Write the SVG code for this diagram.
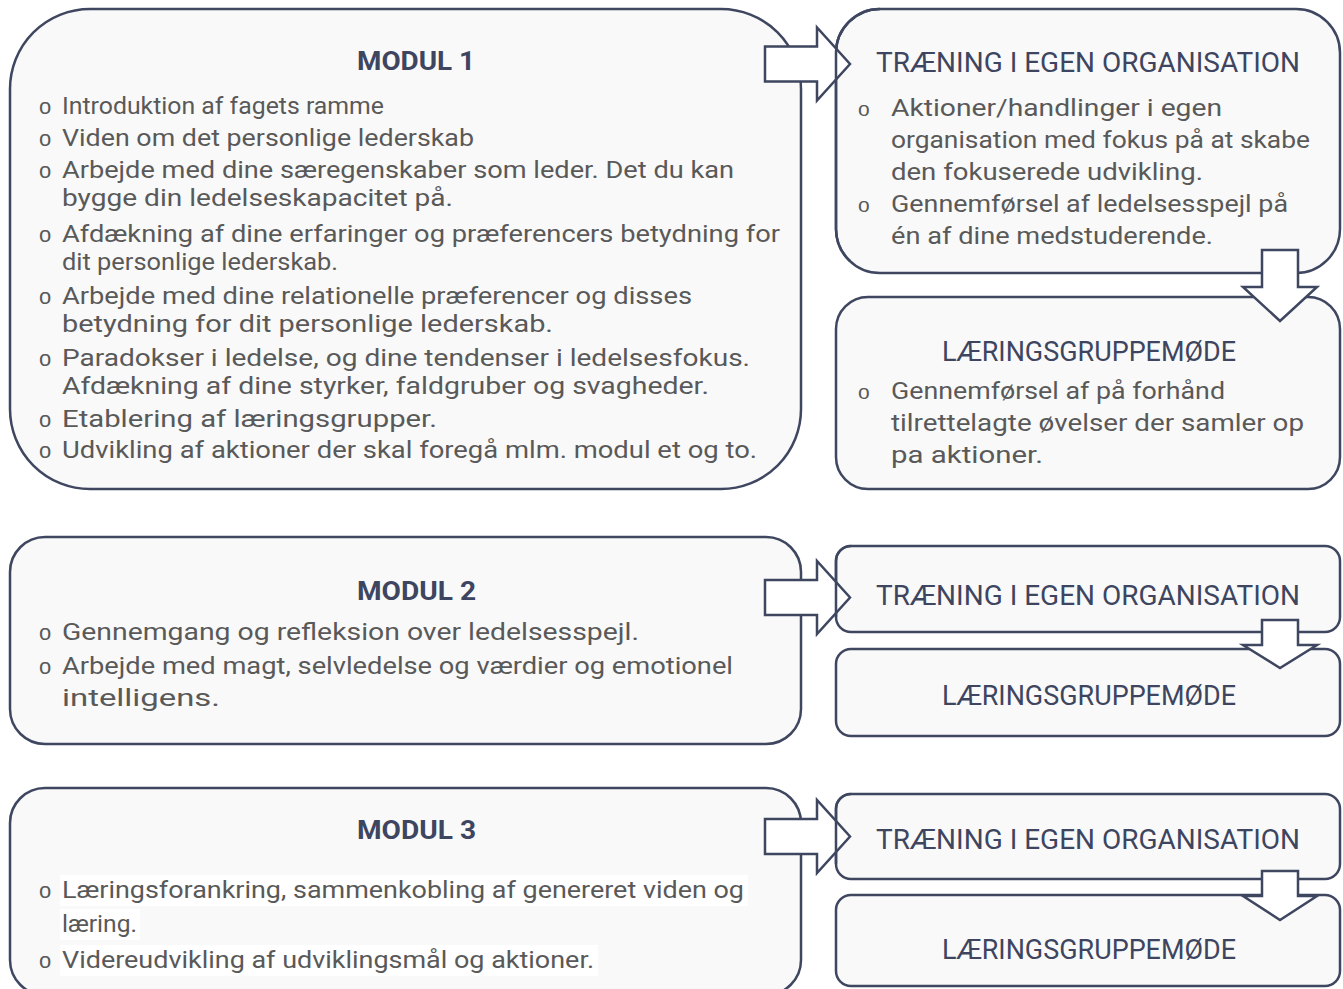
<svg xmlns="http://www.w3.org/2000/svg" width="1343" height="989" viewBox="0 0 1343 989">
<style>
.box{fill:#f9f9f9;stroke:#3e4660;stroke-width:2.5}
.edge{fill:none;stroke:#3e4660;stroke-width:2.5}
.arrow{fill:#ffffff;stroke:#3e4660;stroke-width:2.5;stroke-linejoin:miter}
.t{font-family:Roboto,"Noto Sans",sans-serif;font-size:23px;fill:#595959}
.h{font-family:Roboto,"Noto Sans",sans-serif;font-size:26px;font-weight:bold;fill:#3d4560}
.rh{font-family:Roboto,"Noto Sans",sans-serif;font-size:28px;fill:#3d4560}
.b{font-family:"Liberation Sans",sans-serif;font-size:22px;fill:#595959}
.br{font-family:"Liberation Sans",sans-serif;font-size:21px;fill:#595959}
.hl{fill:#ffffff}
</style>
<rect width="1343" height="989" fill="#ffffff"/>

<g id="modul1">
<rect class="box" x="10" y="9" width="791" height="480" rx="80" ry="80"/>
<text class="h" x="357" y="70" textLength="118" lengthAdjust="spacingAndGlyphs">MODUL 1</text>
<text class="b" x="39" y="114">o</text><text class="t" x="62" y="114" textLength="322" lengthAdjust="spacingAndGlyphs">Introduktion af fagets ramme</text>
<text class="b" x="39" y="146">o</text><text class="t" x="62" y="146" textLength="412" lengthAdjust="spacingAndGlyphs">Viden om det personlige lederskab</text>
<text class="b" x="39" y="178">o</text><text class="t" x="62" y="178" textLength="672" lengthAdjust="spacingAndGlyphs">Arbejde med dine særegenskaber som leder. Det du kan</text>
<text class="t" x="62" y="206" textLength="391" lengthAdjust="spacingAndGlyphs">bygge din ledelseskapacitet på.</text>
<text class="b" x="39" y="242">o</text><text class="t" x="62" y="242" textLength="718" lengthAdjust="spacingAndGlyphs">Afdækning af dine erfaringer og præferencers betydning for</text>
<text class="t" x="62" y="270" textLength="276" lengthAdjust="spacingAndGlyphs">dit personlige lederskab.</text>
<text class="b" x="39" y="304">o</text><text class="t" x="62" y="304" textLength="630" lengthAdjust="spacingAndGlyphs">Arbejde med dine relationelle præferencer og disses</text>
<text class="t" x="62" y="332" textLength="491" lengthAdjust="spacingAndGlyphs">betydning for dit personlige lederskab.</text>
<text class="b" x="39" y="366">o</text><text class="t" x="62" y="366" textLength="688" lengthAdjust="spacingAndGlyphs">Paradokser i ledelse, og dine tendenser i ledelsesfokus.</text>
<text class="t" x="62" y="394" textLength="647" lengthAdjust="spacingAndGlyphs">Afdækning af dine styrker, faldgruber og svagheder.</text>
<text class="b" x="39" y="427">o</text><text class="t" x="62" y="427" textLength="375" lengthAdjust="spacingAndGlyphs">Etablering af læringsgrupper.</text>
<text class="b" x="39" y="458">o</text><text class="t" x="62" y="458" textLength="695" lengthAdjust="spacingAndGlyphs">Udvikling af aktioner der skal foregå mlm. modul et og to.</text>
</g>

<g id="traening1">
<rect class="box" x="836" y="9" width="504" height="264" rx="44" ry="44"/>
<text class="rh" x="876" y="72" textLength="424" lengthAdjust="spacingAndGlyphs">TRÆNING I EGEN ORGANISATION</text>
<text class="br" x="858" y="116">o</text><text class="t" x="891" y="116" textLength="331" lengthAdjust="spacingAndGlyphs">Aktioner/handlinger i egen</text>
<text class="t" x="891" y="148" textLength="419" lengthAdjust="spacingAndGlyphs">organisation med fokus på at skabe</text>
<text class="t" x="891" y="180" textLength="312" lengthAdjust="spacingAndGlyphs">den fokuserede udvikling.</text>
<text class="br" x="858" y="212">o</text><text class="t" x="891" y="212" textLength="397" lengthAdjust="spacingAndGlyphs">Gennemførsel af ledelsesspejl på</text>
<text class="t" x="891" y="244" textLength="322" lengthAdjust="spacingAndGlyphs">én af dine medstuderende.</text>
</g>

<g id="laering1">
<rect class="box" x="836" y="297" width="504" height="192" rx="32" ry="32"/>
<text class="rh" x="942" y="361" textLength="294" lengthAdjust="spacingAndGlyphs">LÆRINGSGRUPPEMØDE</text>
<text class="br" x="858" y="399">o</text><text class="t" x="891" y="399" textLength="334" lengthAdjust="spacingAndGlyphs">Gennemførsel af på forhånd</text>
<text class="t" x="891" y="431" textLength="413" lengthAdjust="spacingAndGlyphs">tilrettelagte øvelser der samler op</text>
<text class="t" x="891" y="463" textLength="152" lengthAdjust="spacingAndGlyphs">pa aktioner.</text>
</g>

<g id="modul2">
<rect class="box" x="10" y="537" width="791" height="207" rx="35" ry="35"/>
<text class="h" x="357" y="600" textLength="119" lengthAdjust="spacingAndGlyphs">MODUL 2</text>
<text class="b" x="39" y="640">o</text><text class="t" x="62" y="640" textLength="577" lengthAdjust="spacingAndGlyphs">Gennemgang og refleksion over ledelsesspejl.</text>
<text class="b" x="39" y="674">o</text><text class="t" x="62" y="674" textLength="671" lengthAdjust="spacingAndGlyphs">Arbejde med magt, selvledelse og værdier og emotionel</text>
<text class="t" x="62" y="706" textLength="158" lengthAdjust="spacingAndGlyphs">intelligens.</text>
</g>

<g id="traening2">
<rect class="box" x="836" y="546" width="504" height="86" rx="15" ry="15"/>
<text class="rh" x="876" y="605" textLength="424" lengthAdjust="spacingAndGlyphs">TRÆNING I EGEN ORGANISATION</text>
</g>

<g id="laering2">
<rect class="box" x="836" y="649" width="504" height="87" rx="15" ry="15"/>
<text class="rh" x="942" y="705" textLength="294" lengthAdjust="spacingAndGlyphs">LÆRINGSGRUPPEMØDE</text>
</g>

<g id="modul3">
<rect class="box" x="10" y="788" width="791" height="207" rx="35" ry="35"/>
<text class="h" x="357" y="839" textLength="119" lengthAdjust="spacingAndGlyphs">MODUL 3</text>
<rect class="hl" x="60" y="875" width="688" height="31"/>
<rect class="hl" x="60" y="909" width="80" height="31"/>
<rect class="hl" x="60" y="945" width="538" height="31"/>
<text class="b" x="39" y="898">o</text><text class="t" x="62" y="898" textLength="682" lengthAdjust="spacingAndGlyphs">Læringsforankring, sammenkobling af genereret viden og</text>
<text class="t" x="62" y="932" textLength="75" lengthAdjust="spacingAndGlyphs">læring.</text>
<text class="b" x="39" y="968">o</text><text class="t" x="62" y="968" textLength="532" lengthAdjust="spacingAndGlyphs">Videreudvikling af udviklingsmål og aktioner.</text>
</g>

<g id="traening3">
<rect class="box" x="836" y="794" width="504" height="85" rx="15" ry="15"/>
<text class="rh" x="876" y="849" textLength="424" lengthAdjust="spacingAndGlyphs">TRÆNING I EGEN ORGANISATION</text>
</g>

<g id="laering3">
<rect class="box" x="836" y="895" width="504" height="91" rx="15" ry="15"/>
<text class="rh" x="942" y="959" textLength="294" lengthAdjust="spacingAndGlyphs">LÆRINGSGRUPPEMØDE</text>
</g>

<g id="connectors">
<polygon class="arrow" points="765,46.5 817,46.5 817,27.5 850,64 817,100.5 817,81.5 765,81.5"/>
<polygon class="arrow" points="765,580 817,580 817,561 850,597.5 817,634 817,615 765,615"/>
<polygon class="arrow" points="765,819 817,819 817,800 850,836.5 817,873 817,854 765,854"/>
<path class="edge" d="M880,9 A44,44 0 0 0 836,53 L836,229 A44,44 0 0 0 850,261"/>
<path class="edge" d="M851,546 A15,15 0 0 0 836,561 L836,617"/>
<path class="edge" d="M851,794 A15,15 0 0 0 836,809 L836,864"/>
<polygon class="arrow" points="1262,250 1298,250 1298,287 1317,287 1280,321 1243,287 1262,287"/>
<polygon class="arrow" points="1262,620 1298,620 1298,645 1317,645 1280,668 1243,645 1262,645"/>
<polygon class="arrow" points="1262,871 1298,871 1298,896 1317,896 1280,920 1243,896 1262,896"/>
</g>
</svg>
